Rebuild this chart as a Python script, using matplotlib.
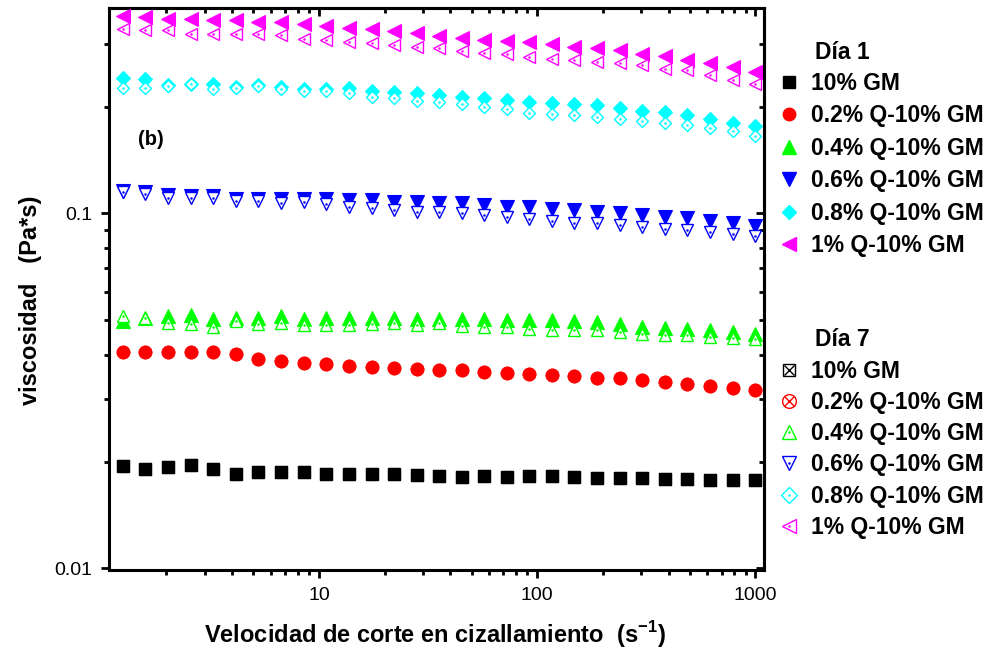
import matplotlib
matplotlib.use("Agg")
import matplotlib.pyplot as plt
from matplotlib.lines import Line2D
from matplotlib.legend_handler import HandlerTuple
from matplotlib.ticker import LogLocator, NullFormatter, FixedLocator, FixedFormatter

plt.rcParams['font.family'] = ['Liberation Sans', 'DejaVu Sans']

# shear rate (1/s)
shear_rate = [1.26, 1.60, 2.03, 2.58, 3.27, 4.15, 5.27, 6.69, 8.49, 10.8,
              13.7, 17.4, 22.0, 28.0, 35.5, 45.0, 57.1, 72.5, 92.0, 117,
              148, 188, 239, 303, 385, 488, 620, 787, 1000]

series_labels = ["10% GM", "0.2% Q-10% GM", "0.4% Q-10% GM",
                 "0.6% Q-10% GM", "0.8% Q-10% GM", "1% Q-10% GM"]
series_colors = ["#000000", "#ff0000", "#00ff00", "#0000ff", "#00ffff", "#ff00ff"]
series_markers = ["s", "o", "^", "v", "D", "<"]

# viscosity (Pa*s), day 1
dia1_gm = [0.0194, 0.0191, 0.0193, 0.0196, 0.0191, 0.0184, 0.0187, 0.0187, 0.0187, 0.0184,
           0.0184, 0.0184, 0.0184, 0.0183, 0.0182, 0.0181, 0.0182, 0.0181, 0.0182, 0.0182,
           0.0181, 0.0180, 0.0180, 0.0180, 0.0179, 0.0179, 0.0178, 0.0178, 0.0177]
dia1_q02 = [0.0408, 0.0408, 0.0408, 0.0408, 0.0408, 0.0402, 0.0389, 0.0384, 0.0380, 0.0376,
            0.0372, 0.0370, 0.0368, 0.0364, 0.0362, 0.0362, 0.0358, 0.0356, 0.0354, 0.0351,
            0.0349, 0.0345, 0.0344, 0.0339, 0.0335, 0.0331, 0.0326, 0.0322, 0.0318]
dia1_q04 = [0.0498, 0.0509, 0.0514, 0.0516, 0.0505, 0.0508, 0.0508, 0.0514, 0.0505, 0.0508,
            0.0508, 0.0508, 0.0508, 0.0505, 0.0503, 0.0503, 0.0503, 0.0500, 0.0500, 0.0500,
            0.0497, 0.0494, 0.0487, 0.0479, 0.0476, 0.0473, 0.0469, 0.0463, 0.0459]
dia1_q06 = [0.1158, 0.1146, 0.1128, 0.1121, 0.1121, 0.1097, 0.1097, 0.1097, 0.1097, 0.1097,
            0.1090, 0.1090, 0.1078, 0.1078, 0.1069, 0.1069, 0.1055, 0.1046, 0.1040, 0.1028,
            0.1022, 0.1010, 0.1000, 0.0989, 0.0978, 0.0968, 0.0953, 0.0939, 0.0923]
dia1_q08 = [0.240, 0.2385, 0.230, 0.232, 0.231, 0.227, 0.230, 0.227, 0.224, 0.224,
            0.225, 0.2215, 0.220, 0.218, 0.2154, 0.213, 0.211, 0.2085, 0.206, 0.205,
            0.203, 0.202, 0.198, 0.195, 0.1925, 0.189, 0.184, 0.180, 0.176]
dia1_q1 = [0.360, 0.358, 0.354, 0.354, 0.350, 0.350, 0.347, 0.347, 0.341, 0.337,
           0.334, 0.330, 0.327, 0.323, 0.316, 0.313, 0.309, 0.306, 0.304, 0.301,
           0.295, 0.292, 0.288, 0.282, 0.277, 0.270, 0.266, 0.259, 0.251]

# viscosity (Pa*s), day 7
dia7_gm = [0.0194, 0.0191, 0.0193, 0.0196, 0.0191, 0.0184, 0.0187, 0.0187, 0.0187, 0.0184,
           0.0184, 0.0184, 0.0184, 0.0183, 0.0182, 0.0181, 0.0182, 0.0181, 0.0182, 0.0182,
           0.0181, 0.0180, 0.0180, 0.0180, 0.0179, 0.0179, 0.0178, 0.0178, 0.0177]
dia7_q02 = [0.0408, 0.0408, 0.0408, 0.0408, 0.0408, 0.0402, 0.0389, 0.0384, 0.0380, 0.0376,
            0.0372, 0.0370, 0.0368, 0.0364, 0.0362, 0.0362, 0.0358, 0.0356, 0.0354, 0.0351,
            0.0349, 0.0345, 0.0344, 0.0339, 0.0335, 0.0331, 0.0326, 0.0322, 0.0318]
dia7_q04 = [0.0514, 0.0509, 0.0492, 0.0488, 0.0479, 0.0498, 0.0488, 0.0492, 0.0485, 0.0485,
            0.0485, 0.0488, 0.0490, 0.0485, 0.0490, 0.0482, 0.0479, 0.0478, 0.0474, 0.0471,
            0.0471, 0.0471, 0.0464, 0.0459, 0.0454, 0.0454, 0.0448, 0.0445, 0.0442]
dia7_q06 = [0.1146, 0.1131, 0.1102, 0.1102, 0.1106, 0.1081, 0.1085, 0.1071, 0.1076, 0.1060,
            0.1040, 0.1037, 0.1026, 0.1010, 0.1010, 0.1000, 0.0989, 0.0978, 0.0962, 0.0951,
            0.0941, 0.0937, 0.0927, 0.0917, 0.0907, 0.0897, 0.0888, 0.0878, 0.0864]
dia7_q08 = [0.225, 0.226, 0.228, 0.231, 0.2235, 0.225, 0.228, 0.2239, 0.2215, 0.2215,
            0.219, 0.213, 0.2116, 0.2076, 0.206, 0.204, 0.1996, 0.1975, 0.192, 0.191,
            0.189, 0.187, 0.184, 0.182, 0.180, 0.177, 0.174, 0.171, 0.165]
dia7_q1 = [0.330, 0.328, 0.328, 0.321, 0.321, 0.321, 0.320, 0.318, 0.311, 0.308,
           0.304, 0.302, 0.298, 0.295, 0.292, 0.287, 0.283, 0.282, 0.276, 0.273,
           0.270, 0.267, 0.265, 0.262, 0.256, 0.253, 0.245, 0.237, 0.232]

dia1 = [dia1_gm, dia1_q02, dia1_q04, dia1_q06, dia1_q08, dia1_q1]
dia7 = [dia7_gm, dia7_q02, dia7_q04, dia7_q06, dia7_q08, dia7_q1]

filled_size = [8.5, 9, 10, 10, 7, 10]
open_size = [8.5, 9, 8.5, 8.5, 6.5, 8.5]

fig = plt.figure(figsize=(9.95, 6.6), dpi=100)
ax = fig.add_axes([0.1095, 0.1364, 0.658, 0.852])

handles1 = []
handles7 = []
for i in range(6):
    c = series_colors[i]
    m = series_markers[i]
    ax.plot(shear_rate, dia1[i], ls="none", marker=m, ms=filled_size[i],
            mfc=c, mec=c, mew=0.8, zorder=4)
    h1 = Line2D([], [], ls="none", marker=m, ms=filled_size[i], mfc=c, mec=c)
    handles1.append(h1)

    if i < 2:
        # crossed square / crossed circle, kept under the filled markers
        ax.plot(shear_rate, dia7[i], ls="none", marker=m, ms=open_size[i],
                mfc="white", mec=c, mew=1.0, zorder=3)
        ax.plot(shear_rate, dia7[i], ls="none", marker="x", ms=open_size[i] * 0.7,
                mec=c, mew=1.0, zorder=3)
        h7 = (Line2D([], [], ls="none", marker=m, ms=open_size[i] * 1.1, mfc="white", mec=c, mew=1.0),
              Line2D([], [], ls="none", marker="x", ms=open_size[i] * 0.8, mec=c, mew=1.0))
    else:
        ax.plot(shear_rate, dia7[i], ls="none", marker=m, ms=open_size[i],
                mfc="white", mec=c, mew=1.0, zorder=5)
        ax.plot(shear_rate, dia7[i], ls="none", marker=".", ms=1.6,
                mfc=c, mec=c, zorder=6)
        h7 = (Line2D([], [], ls="none", marker=m, ms=open_size[i] * 1.2, mfc="white", mec=c, mew=1.0),
              Line2D([], [], ls="none", marker=".", ms=1.6, mfc=c, mec=c))
    handles7.append(h7)

ax.set_xscale("log")
ax.set_yscale("log")
ax.set_xlim(1.09, 1090)
ax.set_ylim(0.0099, 0.38)

ax.xaxis.set_major_locator(FixedLocator([10, 100, 1000]))
ax.xaxis.set_major_formatter(FixedFormatter(["10", "100", "1000"]))
ax.xaxis.set_minor_locator(LogLocator(base=10, subs=range(2, 10)))
ax.xaxis.set_minor_formatter(NullFormatter())
ax.yaxis.set_major_locator(FixedLocator([0.01, 0.1]))
ax.yaxis.set_major_formatter(FixedFormatter(["0.01", "0.1"]))
ax.yaxis.set_minor_locator(LogLocator(base=10, subs=range(2, 10)))
ax.yaxis.set_minor_formatter(NullFormatter())

for s in ax.spines.values():
    s.set_linewidth(2.2)
ax.tick_params(which="major", direction="out", length=6, width=2, labelsize=14, pad=6)
ax.tick_params(which="minor", direction="out", length=3.5, width=2)

# inward ticks on the top and right spines
top = ax.secondary_xaxis("top")
top.xaxis.set_major_locator(FixedLocator([10, 100, 1000]))
top.xaxis.set_minor_locator(LogLocator(base=10, subs=range(2, 10)))
top.tick_params(which="major", direction="in", length=6, width=2, labeltop=False)
top.tick_params(which="minor", direction="in", length=3.5, width=2)
top.xaxis.set_minor_formatter(NullFormatter())
right = ax.secondary_yaxis("right")
right.yaxis.set_major_locator(FixedLocator([0.01, 0.1]))
right.yaxis.set_minor_locator(LogLocator(base=10, subs=range(2, 10)))
right.tick_params(which="major", direction="in", length=6, width=2, labelright=False)
right.tick_params(which="minor", direction="in", length=3.5, width=2)
right.yaxis.set_minor_formatter(NullFormatter())
for sec in (top, right):
    for s in sec.spines.values():
        s.set_linewidth(2.2)

label_font = ["Liberation Sans Narrow", "Liberation Sans", "DejaVu Sans"]
fig.text(0.437, 0.038, "Velocidad de corte en cizallamiento  (s$^{\\mathregular{-1}}$)",
         ha="center", va="center", fontsize=17, fontweight="bold", family=label_font)
fig.text(0.031, 0.545, "viscosidad   (Pa*s)", rotation=90,
         ha="center", va="center", fontsize=17, fontweight="bold", family=label_font)
ax.text(0.044, 0.765, "(b)", transform=ax.transAxes, va="center",
        fontsize=14.5, fontweight="bold")

leg_kw = dict(frameon=False, loc="upper left", bbox_transform=fig.transFigure,
              handlelength=1.0, handletextpad=0.5, borderaxespad=0, borderpad=0,
              prop={"weight": "bold", "size": 16.5},
              handler_map={tuple: HandlerTuple(ndivide=1, pad=0)})
leg1 = ax.legend(handles1, series_labels, bbox_to_anchor=(0.781, 0.891),
                 labelspacing=0.41, **leg_kw)
ax.add_artist(leg1)
ax.legend(handles7, series_labels, bbox_to_anchor=(0.781, 0.455),
          labelspacing=0.36, **leg_kw)
fig.text(0.819, 0.921, "Día 1", ha="left", va="center", fontsize=16.5, fontweight="bold")
fig.text(0.819, 0.486, "Día 7", ha="left", va="center", fontsize=16.5, fontweight="bold")

fig.savefig("out.png", dpi=100)
